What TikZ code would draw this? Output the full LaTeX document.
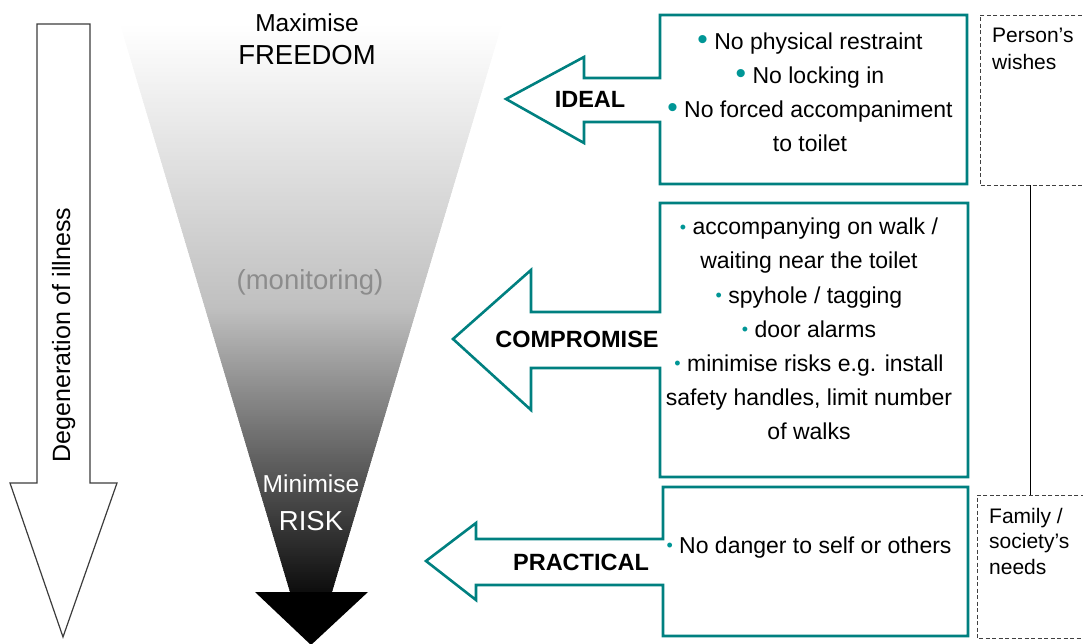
\documentclass[tikz,border=0pt]{standalone}
\usepackage{fontspec}
\setmainfont{Liberation Sans}
\definecolor{tealc}{RGB}{0,128,128}
\definecolor{bulc}{RGB}{0,150,150}
\definecolor{mongray}{RGB}{140,140,140}
\definecolor{arrgray}{RGB}{60,60,60}
\newcommand{\bigbul}{{\color{bulc}\scalebox{1.3}{•}}}
\newcommand{\smbul}{\raisebox{1.5pt}{\fontsize{18}{18}\selectfont\color{bulc}•}}
\begin{document}
\begin{tikzpicture}[x=1pt,y=-1pt,
  tealshape/.style={draw=tealc, line width=2.6pt, fill=white, line join=miter},
  leftarrow/.style={draw=arrgray, line width=1.2pt, fill=white, line join=miter},
  body/.style={font=\fontsize{23}{34}\selectfont, inner sep=0pt, anchor=base},
  lab/.style={font=\bfseries\fontsize{23.5}{28}\selectfont, inner sep=0pt, anchor=base},
  side/.style={inner sep=0pt, anchor=base west},
  frame/.style={draw=none, inner sep=0pt},
  dashline/.style={draw=black!75, line width=0.9pt, dash pattern=on 4pt off 2.5pt},
  conn/.style={draw=black, line width=1pt},
  big/.style={font=\fontsize{27.5}{30}\selectfont, inner sep=0pt, anchor=base},
  mid/.style={font=\fontsize{24.5}{28}\selectfont, inner sep=0pt, anchor=base}]
\useasboundingbox (0,0) rectangle (1083,644);

% funnel with gradient
\begin{scope}
\clip (120,24) -- (502,24) -- (332,592) -- (290,592) -- cycle;
\foreach \i in {0,...,284}{
  \pgfmathsetmacro\myt{\i/284}
  \pgfmathsetmacro\myp{\myt<0.5 ? 50*\myt : 25+140*(\myt-0.5)}
  \fill[black!\myp] (110,24+2*\i) rectangle (512,27+2*\i);
}
\end{scope}
\fill[black] (255,592) -- (368,592) -- (311,645) -- cycle;

\node[mid] (maxi) at (307,32) {Maximise};
\node[big] (free) at (307,65) {FREEDOM};
\node[big, text=mongray] (moni) at (310,289) {(monitoring)};
\node[mid, text=white] (mini) at (311,492) {Minimise};
\node[big, text=white] (risk) at (311,530) {RISK};

% left arrow
\draw[leftarrow] (37,24) -- (90,24) -- (90,483) -- (117,483) -- (63,637) -- (10,483) -- (37,483) -- cycle;
\node[rotate=90, anchor=base, inner sep=0pt, font=\fontsize{25}{28}\selectfont] (degen) at (70,335) {Degeneration of illness};

% arrow boxes
\draw[tealshape] (660,15) -- (967,15) -- (967,184) -- (660,184) -- (660,122) -- (584,122) -- (584,143) -- (506,99) -- (584,57) -- (584,78) -- (660,78) -- cycle;
\draw[tealshape] (660,203) -- (968,203) -- (968,477) -- (660,477) -- (660,368) -- (531,368) -- (531,410) -- (453,339) -- (531,270) -- (531,312) -- (660,312) -- cycle;
\draw[tealshape] (663,487) -- (968,487) -- (968,636) -- (663,636) -- (663,585) -- (476,585) -- (476,600) -- (426,561) -- (476,523) -- (476,539) -- (663,539) -- cycle;

\node[lab] (ideal) at (590,108) {IDEAL};
\node[lab] (comp) at (577,347) {COMPROMISE};
\node[lab] (prac) at (581,570) {PRACTICAL};

\node[body] (t1) at (810,50) {\begin{tabular}[t]{@{}c@{}}\bigbul{} No physical restraint\\ \bigbul{} No locking in\\ \bigbul{} No forced accompaniment\\ to toilet\end{tabular}};
\node[body] (t2) at (809,235) {\begin{tabular}[t]{@{}c@{}}\smbul{} accompanying on walk /\\ waiting near the toilet\\ \smbul{} spyhole / tagging\\ \smbul{} door alarms\\ \smbul{} minimise risks e.g. install\\ safety handles, limit number\\ of walks\end{tabular}};
\node[body] (t3) at (809,553) {\smbul{} No danger to self or others};

% dashed side boxes
\node[frame, minimum width=100pt, minimum height=170pt, anchor=north west] (wish) at (980,15) {};
\node[frame, minimum width=106pt, minimum height=143pt, anchor=north west] (needs) at (977,495) {};
\draw[dashline] ([xshift=8pt]wish.north east) -- (wish.north west) -- (wish.south west) -- ([xshift=8pt]wish.south east);
\draw[dashline] ([xshift=8pt]needs.north east) -- (needs.north west) -- (needs.south west) -- ([xshift=8pt]needs.south east);
\draw[conn] (wish.south) -- (needs.north);

\node[side, font=\fontsize{21}{27}\selectfont] (wisht) at (992,43) {\begin{tabular}[t]{@{}l@{}}Person’s\\ wishes\end{tabular}};
\node[side, font=\fontsize{21}{25.5}\selectfont] (needt) at (989,523) {\begin{tabular}[t]{@{}l@{}}Family /\\ society’s\\ needs\end{tabular}};
\end{tikzpicture}
\end{document}
